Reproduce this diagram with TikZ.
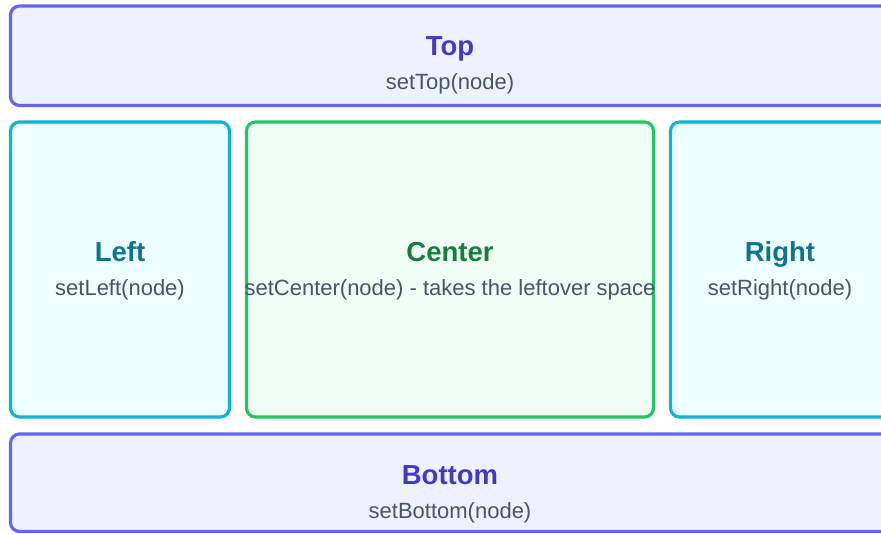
\documentclass[tikz,border=0pt]{standalone}
\usepackage{fontspec}
\setmainfont{Liberation Sans}
\usetikzlibrary{positioning}

\definecolor{indigoline}{HTML}{6366F1}
\definecolor{indigofill}{HTML}{EEF2FF}
\definecolor{indigotext}{HTML}{4338CA}
\definecolor{cyanline}{HTML}{06B6D4}
\definecolor{cyanfill}{HTML}{ECFEFF}
\definecolor{cyantext}{HTML}{0E7490}
\definecolor{greenline}{HTML}{22C55E}
\definecolor{greenfill}{HTML}{F0FDF4}
\definecolor{greentext}{HTML}{15803D}
\definecolor{slatetext}{HTML}{475569}

\begin{document}
\begin{tikzpicture}[x=1pt, y=-1pt,
  region/.style = {rectangle, line width=3.2pt, rounded corners=9pt, inner sep=0pt, outer sep=0pt},
  outer/.style = {region, draw=indigoline, fill=indigofill},
  side/.style = {region, draw=cyanline, fill=cyanfill},
  middle/.style = {region, draw=greenline, fill=greenfill},
  title/.style = {anchor=base, inner sep=0pt, font=\fontsize{27.5}{32}\selectfont\bfseries},
  caption/.style = {anchor=base, inner sep=0pt, text=slatetext, font=\fontsize{22}{26}\selectfont}]

  \useasboundingbox (0,0) rectangle (881,533);
  \clip (0,0) rectangle (881,533);

  % the five regions
  \node [outer, minimum width=879pt, minimum height=99.5pt] (topn) at (450,55.75) {};
  \node [side, minimum width=219pt, minimum height=295pt] (leftn) at (120,269.5) {};
  \node [middle, minimum width=407pt, minimum height=295pt] (centern) at (450,269.5) {};
  \node [side, minimum width=219pt, minimum height=295pt] (rightn) at (780,269.5) {};
  \node [outer, minimum width=879pt, minimum height=97.5pt] (bottomn) at (450,482.75) {};

  % labels
  \node [title, text=indigotext] (topt) at (450,55) {Top};
  \node [caption] (topc) at (450,89) {setTop(node)};

  \node [title, text=cyantext] (leftt) at (120,261) {Left};
  \node [caption] (leftc) at (120,295) {setLeft(node)};

  \node [title, text=greentext] (centert) at (450,261) {Center};
  \node [caption] (centerc) at (450,295) {setCenter(node) - takes the leftover space};

  \node [title, text=cyantext] (rightt) at (780,261) {Right};
  \node [caption] (rightc) at (780,295) {setRight(node)};

  \node [title, text=indigotext] (bottomt) at (450,484) {Bottom};
  \node [caption] (bottomc) at (450,518) {setBottom(node)};

\end{tikzpicture}
\end{document}
